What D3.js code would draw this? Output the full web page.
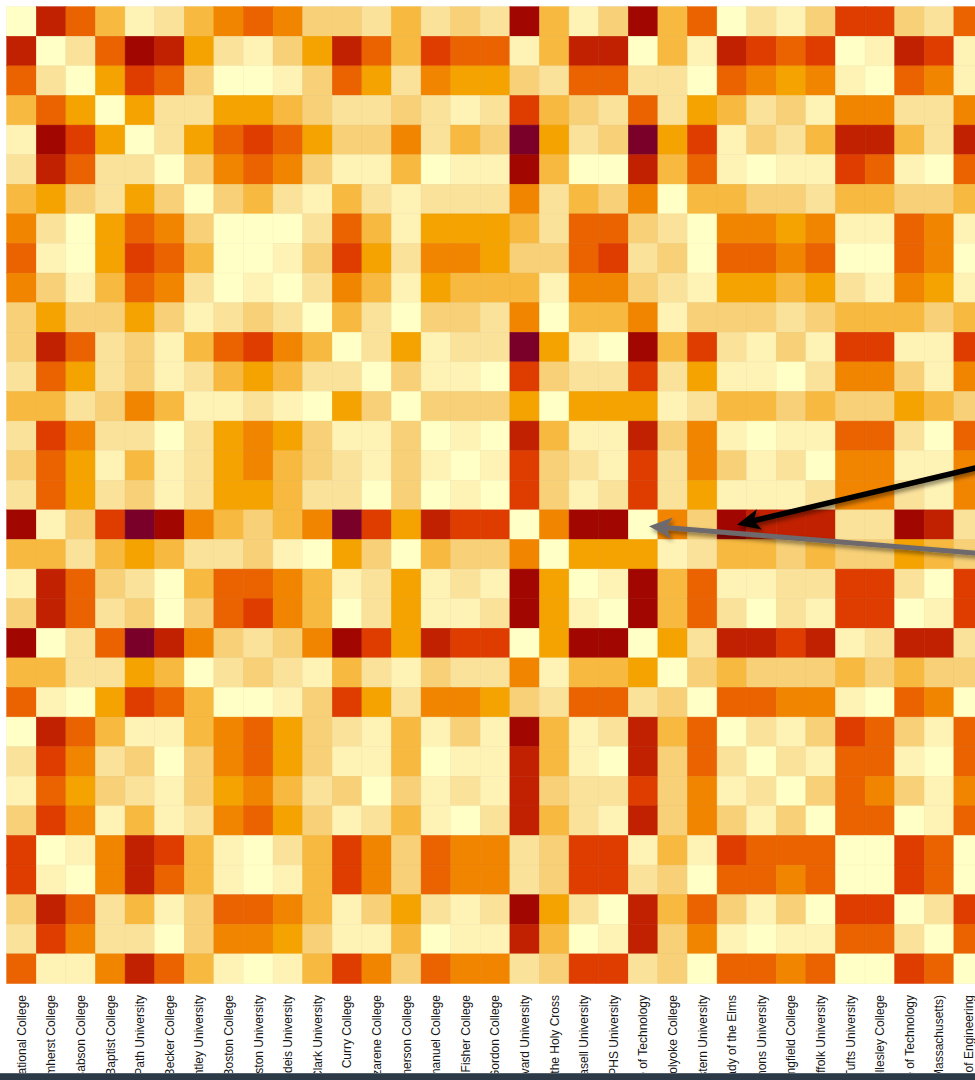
<!DOCTYPE html>
<html>
<head>
<meta charset="utf-8">
<title>Massachusetts colleges : similarity heatmap</title>
<script src="https://d3js.org/d3.v7.min.js"></script>
<style>
	body { margin: 0; background: #fff; overflow: hidden; }
	svg { display: block; }
	.label text { font-family: "Liberation Sans", Arial, sans-serif; font-size: 12px; fill: #151515; }
</style>
</head>
<body>
<svg width="975" height="1080"></svg>

<script>
const colleges = [
	"American International College", "Amherst College", "Babson College", "Boston Baptist College",
	"Bay Path University", "Becker College", "Bentley University", "Boston College",
	"Boston University", "Brandeis University", "Clark University", "Curry College",
	"Eastern Nazarene College", "Emerson College", "Emmanuel College", "Fisher College",
	"Gordon College", "Harvard University", "College of the Holy Cross", "Lasell University",
	"MCPHS University", "Massachusetts Institute of Technology", "Mount Holyoke College", "Northeastern University",
	"College of Our Lady of the Elms", "Simmons University", "Springfield College", "Suffolk University",
	"Tufts University", "Wellesley College", "Wentworth Institute of Technology", "Wheaton College (Massachusetts)",
	"Olin College of Engineering"
];

// distance level of every pair (0 = same, 11 = furthest apart)
const levels = [
	[0,9,7,4,1,2,4,6,7,6,3, 3,2,4,2,3,2,10,4,1,3,10, 4,7,0,2,1,3,8,8,3,2,7],
	[9,0,2,7,10,9,5,2,1,3,5, 9,7,4,8,7,7,1,4,9,9,0, 4,1,9,8,7,8,0,1,9,8,1],
	[7,2,0,5,8,7,3,0,0,1,3, 7,5,2,6,5,5,3,2,7,7,2, 2,0,7,6,5,6,1,0,7,6,1],
	[4,7,5,0,5,2,2,5,5,4,3, 2,2,3,2,1,2,8,4,3,2,7, 2,5,4,2,3,1,6,6,2,2,6],
	[1,10,8,5,0,2,5,7,8,7,5, 3,3,6,2,4,3,11,5,2,3,11, 5,8,1,3,2,4,9,9,4,2,9],
	[2,9,7,2,2,0,3,6,7,6,3, 1,1,4,0,1,1,10,4,0,0,9, 4,7,1,0,1,1,8,7,1,0,7],
	[4,5,3,2,5,3,0,3,4,2,1, 4,2,1,2,2,2,6,2,4,3,6, 0,4,4,3,3,2,4,4,3,3,4],
	[6,2,0,5,7,6,3,0,0,0,2, 7,4,1,5,5,5,4,2,7,7,3, 2,0,6,6,5,6,1,1,7,6,1],
	[7,1,0,5,8,7,4,0,0,1,3, 8,5,2,6,6,5,3,3,7,8,2, 3,0,7,7,6,7,0,0,7,6,0],
	[6,3,1,4,7,6,2,0,1,0,2, 6,4,1,5,4,4,4,1,6,6,3, 2,1,5,5,4,5,2,1,6,5,1],
	[3,5,3,3,5,3,1,2,3,2,0, 4,2,0,3,3,2,6,0,4,4,6, 1,3,3,3,2,3,4,4,4,3,4],
	[3,9,7,2,3,1,4,7,8,6,4, 0,2,5,1,2,2,11,5,1,0,10, 4,8,2,1,3,1,8,8,1,1,8],
	[2,7,5,2,3,1,2,4,5,4,2, 2,0,3,1,1,0,8,3,2,2,8, 2,5,1,1,0,2,6,6,3,1,6],
	[4,4,2,3,6,4,1,1,2,1,0, 5,3,0,3,3,3,5,0,5,5,5, 1,2,4,4,3,4,3,3,5,4,3],
	[2,8,6,2,2,0,2,5,6,5,3, 1,1,3,0,1,0,9,4,1,1,9, 3,6,1,0,1,1,7,7,2,0,7],
	[3,7,5,1,4,1,2,5,6,4,3, 2,1,3,1,0,1,8,3,2,1,8, 2,6,3,1,2,0,6,6,1,1,6],
	[2,7,5,2,3,1,2,5,5,4,2, 2,0,3,0,1,0,8,3,1,2,8, 2,5,1,1,1,2,6,6,2,1,6],
	[10,1,3,8,11,10,6,4,3,4,6, 11,8,5,9,8,8,0,6,10,10,0, 6,3,10,9,9,9,2,2,10,9,2],
	[4,4,2,4,5,4,2,2,3,1,0, 5,3,0,4,3,3,6,0,5,5,5, 1,2,4,4,3,4,3,3,5,4,3],
	[1,9,7,3,2,0,4,7,7,6,4, 1,2,5,1,2,1,10,5,0,1,10, 4,7,1,1,2,2,8,8,2,0,8],
	[3,9,7,2,3,0,3,7,8,6,4, 0,2,5,1,1,2,10,5,1,0,10, 4,7,2,0,2,1,8,8,0,1,8],
	[10,0,2,7,11,9,6,3,2,3,6, 10,8,5,9,8,8,0,5,10,10,0, 5,2,9,9,8,9,1,2,9,9,2],
	[4,4,2,2,5,4,0,2,3,2,1, 4,2,1,3,2,2,6,1,4,4,5, 0,3,4,3,3,3,4,3,4,3,3],
	[7,1,0,5,8,7,4,0,0,1,3, 8,5,2,6,6,5,3,2,7,7,2, 3,0,7,7,6,6,1,0,7,6,0],
	[0,9,7,4,1,1,4,6,7,5,3, 2,1,4,1,3,1,10,4,1,2,9, 4,7,0,2,1,3,8,7,3,1,7],
	[2,8,6,2,3,0,3,6,7,5,3, 1,1,4,0,1,1,9,4,1,0,9, 3,7,2,0,2,1,7,7,1,0,7],
	[1,7,5,3,2,1,3,5,6,4,2, 3,0,3,1,2,1,9,3,2,2,8, 3,6,1,2,0,3,7,6,3,1,6],
	[3,8,6,1,4,1,2,6,7,5,3, 1,2,4,1,0,2,9,4,2,1,9, 3,6,3,1,3,0,7,7,0,1,7],
	[8,0,1,6,9,8,4,1,0,2,4, 8,6,3,7,6,6,2,3,8,8,1, 4,1,8,7,7,7,0,0,8,7,0],
	[8,1,0,6,9,7,4,1,0,1,4, 8,6,3,7,6,6,2,3,8,8,2, 3,0,7,7,6,7,0,0,8,7,0],
	[3,9,7,2,4,1,3,7,7,6,4, 1,3,5,2,1,2,10,5,2,0,9, 4,7,3,1,3,0,8,8,0,2,8],
	[2,8,6,2,2,0,3,6,6,5,3, 1,1,4,0,1,1,9,4,0,1,9, 3,6,1,0,1,1,7,7,2,0,7],
	[7,1,1,6,9,7,4,1,0,1,4, 8,6,3,7,6,6,2,3,8,8,2, 3,0,7,7,6,7,0,0,8,7,0]
];

const levelDomain = d3.range(12);

// the two arrows laid over the picture: which cell they point into
const arrows = [
	{ row: "Harvard University", col: "College of Our Lady of the Elms", fx: 0.67, fy: 0.5, color: "#000", width: 5.5, dx: 265, dy: -63 },
	{ row: "Harvard University", col: "Massachusetts Institute of Technology", fx: 0.7, fy: 0.55, color: "#6e696c", width: 5, dx: 352, dy: 29 }
];

const svg = d3.select("svg");
const cell = 29.6;
const marginLeft = 6.7, marginTop = 6.7;

const x = d3.scaleBand().domain(colleges).range([marginLeft, marginLeft + cell * colleges.length]);
const y = d3.scaleBand().domain(colleges).range([marginTop, marginTop + cell * colleges.length]);
const color = d3.scaleOrdinal()
	.domain(levelDomain)
	.range(["#ffffc6", "#fff2b5", "#fbe29b", "#f7d077", "#f7b93f", "#f5a300",
		"#f28500", "#eb6200", "#df3d00", "#c12100", "#a20600", "#7a0029"]);

const cells = [];
levels.forEach((row, i) => row.forEach((v, j) => cells.push({ r: colleges[i], c: colleges[j], v: v })));

svg.append("g")
	.selectAll("rect")
	.data(cells)
	.enter()
	.append("rect")
	.attr("x", d => x(d.c))
	.attr("y", d => y(d.r))
	.attr("width", x.bandwidth())
	.attr("height", y.bandwidth())
	.style("fill", d => color(d.v))
	.style("stroke", d => d3.color(color(d.v)).darker(0.12))
	.style("stroke-width", 0.5);

// column names, rotated, cut off at the bottom of the window
const axis = svg.append("g")
	.attr("class", "label")
	.attr("transform", "translate(0,995)")
	.call(d3.axisBottom(x).tickSize(0).tickPadding(0));
axis.select(".domain").remove();
axis.selectAll("text")
	.attr("x", 0)
	.attr("y", 0)
	.attr("dy", "0.35em")
	.attr("transform", "rotate(-90)")
	.attr("text-anchor", "end");

svg.append("rect")
	.attr("x", 0).attr("y", 1073)
	.attr("width", 975).attr("height", 7)
	.style("fill", "#2c3a48");
svg.append("rect")
	.attr("x", 0).attr("y", 1073)
	.attr("width", 975).attr("height", 1)
	.style("fill", "#56626e");

// arrows
const defs = svg.append("defs");
const shadow = defs.append("filter").attr("id", "shadow")
	.attr("x", "-20%").attr("y", "-50%").attr("width", "140%").attr("height", "200%");
shadow.append("feDropShadow")
	.attr("dx", 2).attr("dy", 3).attr("stdDeviation", 2)
	.attr("flood-color", "#000").attr("flood-opacity", 0.45);

arrows.forEach(a => {
	const tx = x(a.col) + a.fx * x.bandwidth();
	const ty = y(a.row) + a.fy * y.bandwidth();
	const sx = tx + a.dx, sy = ty + a.dy;
	const ang = Math.atan2(ty - sy, tx - sx);
	const len = 23, half = 10.5;
	const g = svg.append("g").attr("filter", "url(#shadow)");
	g.append("line")
		.attr("x1", sx).attr("y1", sy)
		.attr("x2", tx - Math.cos(ang) * len * 0.7)
		.attr("y2", ty - Math.sin(ang) * len * 0.7)
		.style("stroke", a.color)
		.style("stroke-width", a.width);
	g.append("path")
		.attr("d", `M0,0 L${-len},${-half} L${-len * 0.75},0 L${-len},${half} Z`)
		.attr("transform", `translate(${tx},${ty}) rotate(${ang * 180 / Math.PI})`)
		.style("fill", a.color);
});
</script>
</body>
</html>
